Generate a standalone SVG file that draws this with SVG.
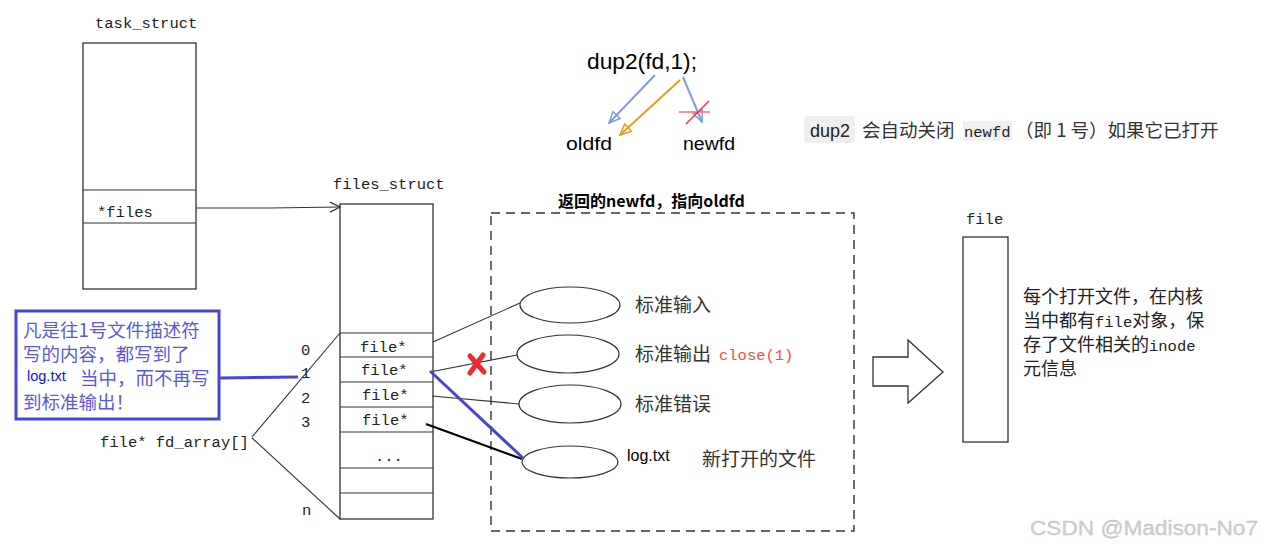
<svg xmlns="http://www.w3.org/2000/svg" width="1265" height="548" viewBox="0 0 1265 548">
<defs>
<style>
.mono{font-family:"Liberation Mono","DejaVu Sans Mono",monospace;font-size:15.5px;fill:#222}
.cjk{font-family:"Noto Sans CJK SC","Noto Sans",sans-serif;font-size:19px;fill:#333}
.box{fill:#fff;stroke:#333;stroke-width:1.3}
.thin{stroke:#333;stroke-width:1.1;fill:none}
.ell{fill:#fff;stroke:#333;stroke-width:1.2}
.sans{font-family:"Liberation Sans","Open Sans",sans-serif}
</style>
<marker id="open" markerWidth="12" markerHeight="12" refX="11" refY="6" orient="auto" markerUnits="userSpaceOnUse">
<path d="M1,1 L11,6 L1,11" fill="none" stroke="#333" stroke-width="1.2"/>
</marker>
<marker id="ab" markerWidth="14" markerHeight="14" refX="12" refY="7" orient="auto" markerUnits="userSpaceOnUse">
<path d="M1,2 L12,7 L1,12 Z" fill="none" stroke="#7f9fd4" stroke-width="1.5"/>
</marker>
<marker id="ao" markerWidth="14" markerHeight="14" refX="12" refY="7" orient="auto" markerUnits="userSpaceOnUse">
<path d="M1,2 L12,7 L1,12 Z" fill="none" stroke="#e0a020" stroke-width="1.5"/>
</marker>
</defs>
<rect width="1265" height="548" fill="#fff"/>

<g id="dup2-call">
<text x="587" y="69" class="sans" font-size="22" fill="#000" textLength="110" lengthAdjust="spacingAndGlyphs">dup2(fd,1);</text>
<text x="566" y="150" class="sans" font-size="18" fill="#000" textLength="46" lengthAdjust="spacingAndGlyphs">oldfd</text>
<text x="683" y="150" class="sans" font-size="18" fill="#000" textLength="52" lengthAdjust="spacingAndGlyphs">newfd</text>
</g>

<g id="dup2-arrows">
<line x1="655" y1="75" x2="609" y2="123" stroke="#7f9fd4" stroke-width="2" marker-end="url(#ab)"/>
<line x1="680" y1="80" x2="620" y2="135" stroke="#e0a020" stroke-width="2" marker-end="url(#ao)"/>
<line x1="683" y1="77" x2="702" y2="122" stroke="#7f9fd4" stroke-width="2" marker-end="url(#ab)"/>
<line x1="679" y1="112" x2="710" y2="112" stroke="#ff6060" stroke-width="1.4"/>
<line x1="686" y1="124" x2="709" y2="101" stroke="#ff3030" stroke-width="1.4"/>
</g>

<g id="note">
<rect x="804" y="116" width="51" height="27" rx="4" fill="#eeeeee"/>
<text x="810" y="137" class="sans" font-size="18" fill="#222">dup2</text>
<text x="862" y="137" class="cjk" style="font-size:18.5px">会自动关闭</text>
<rect x="963" y="121" width="49" height="20" fill="#f0f0f0"/>
<text x="964" y="137" class="mono" fill="#555">newfd</text>
<text x="1015" y="137" class="cjk" style="font-size:18.5px">（即 1 号）如果它已打开</text>
</g>

<g id="task_struct">
<text x="95" y="28" class="mono">task_struct</text>
<rect x="83" y="43" width="113" height="246" class="box"/>
<line x1="83" y1="190" x2="196" y2="190" class="thin"/>
<line x1="83" y1="223" x2="196" y2="223" class="thin"/>
<text x="97" y="217" class="mono">*files</text>
</g>

<g id="files_struct">
<text x="333" y="189" class="mono">files_struct</text>
<rect x="340" y="204" width="93" height="315" class="box"/>
<line x1="340" y1="333" x2="433" y2="333" class="thin"/>
<line x1="340" y1="357" x2="433" y2="357" class="thin"/>
<line x1="340" y1="382" x2="433" y2="382" class="thin"/>
<line x1="340" y1="407" x2="433" y2="407" class="thin"/>
<line x1="340" y1="432" x2="433" y2="432" class="thin"/>
<line x1="340" y1="468" x2="433" y2="468" class="thin"/>
<line x1="340" y1="493" x2="433" y2="493" class="thin"/>
<text x="360" y="352" class="mono">file*</text>
<text x="361" y="375" class="mono">file*</text>
<text x="362" y="400" class="mono">file*</text>
<text x="362" y="425" class="mono">file*</text>
<text x="375" y="461" class="mono">...</text>
<text x="301" y="355" class="mono">0</text>
<text x="301" y="378" class="mono">1</text>
<text x="301" y="403" class="mono">2</text>
<text x="301" y="427" class="mono">3</text>
<text x="302" y="515" class="mono">n</text>
<text x="100" y="447" class="mono">file* fd_array[]</text>
</g>

<g id="note-box">
<rect x="16" y="311" width="203" height="108" fill="#fff" stroke="#4646d2" stroke-width="3"/>
<g class="cjk" style="fill:#5a5ad8;font-size:18.5px">
<text x="23" y="337">凡是往1号文件描述符</text>
<text x="23" y="361">写的内容，都写到了</text>
<text x="80" y="385">当中，而不再写</text>
<text x="23" y="409">到标准输出！</text>
</g>
<text x="27" y="381" class="sans" font-size="14.5" fill="#1010ee">log.txt</text>
</g>

<g id="open-files">
<rect x="491" y="213" width="363" height="318" fill="none" stroke="#333" stroke-width="1.4" stroke-dasharray="9,6"/>
<text x="558" y="207" class="cjk" style="fill:#000;font-size:16px;font-weight:bold">返回的newfd，指向oldfd</text>
</g>

<g id="stdin">
<ellipse cx="570" cy="305" rx="50" ry="18" class="ell"/>
<text x="635" y="312" class="cjk">标准输入</text>
</g>
<g id="stdout">
<ellipse cx="568" cy="354" rx="51" ry="19" class="ell"/>
<text x="635" y="361" class="cjk">标准输出</text>
<text x="719" y="360" class="mono" style="fill:#ff4a4a">close(1)</text>
</g>
<g id="stderr">
<ellipse cx="570" cy="404" rx="51" ry="19" class="ell"/>
<text x="635" y="411" class="cjk">标准错误</text>
</g>
<g id="logtxt">
<ellipse cx="570" cy="462" rx="48" ry="16" class="ell"/>
<text x="627" y="461" class="sans" font-size="16" fill="#000">log.txt</text>
<text x="702" y="466" class="cjk">新打开的文件</text>
</g>

<g id="file">
<text x="966" y="224" class="mono">file</text>
<rect x="963" y="237" width="45" height="205" class="box"/>
<g class="cjk" style="font-size:18px;fill:#222">
<text x="1023" y="303">每个打开文件，在内核</text>
<text x="1023" y="327">当中都有<tspan class="mono" style="font-size:15.5px">file</tspan>对象，保</text>
<text x="1023" y="351">存了文件相关的<tspan class="mono" style="font-size:15.5px">inode</tspan></text>
<text x="1023" y="375">元信息</text>
</g>
</g>

<g id="big-arrow">
<path d="M873,357 L908,357 L908,340 L943,372 L908,403 L908,386 L873,386 Z" fill="#fff" stroke="#333" stroke-width="1.3"/>
</g>

<g id="connectors">
<polyline points="196,208 270,208 340,207" class="thin" marker-end="url(#open)"/>
<line x1="252" y1="437" x2="340" y2="333" class="thin"/>
<line x1="252" y1="438" x2="340" y2="519" class="thin"/>
<line x1="433" y1="342" x2="520" y2="303" class="thin"/>
<line x1="430" y1="372" x2="517" y2="355" class="thin"/>
<line x1="432" y1="396" x2="519" y2="404" class="thin"/>
<line x1="426" y1="424" x2="522" y2="459" stroke="#000" stroke-width="2.2"/>
<line x1="430" y1="371" x2="523" y2="458" stroke="#4646d2" stroke-width="3"/>
<line x1="220" y1="378" x2="298" y2="377" stroke="#4646d2" stroke-width="3"/>
<g stroke="#ee2a2a" stroke-width="5" stroke-linecap="round">
<line x1="470" y1="356" x2="484" y2="372"/>
<line x1="483" y1="355" x2="470" y2="373"/>
</g>
</g>

<text x="1030" y="535" class="sans" font-size="20" fill="#d0d0d0" stroke="#bbb" stroke-width="0.3" textLength="228" lengthAdjust="spacingAndGlyphs">CSDN @Madison-No7</text>
</svg>
